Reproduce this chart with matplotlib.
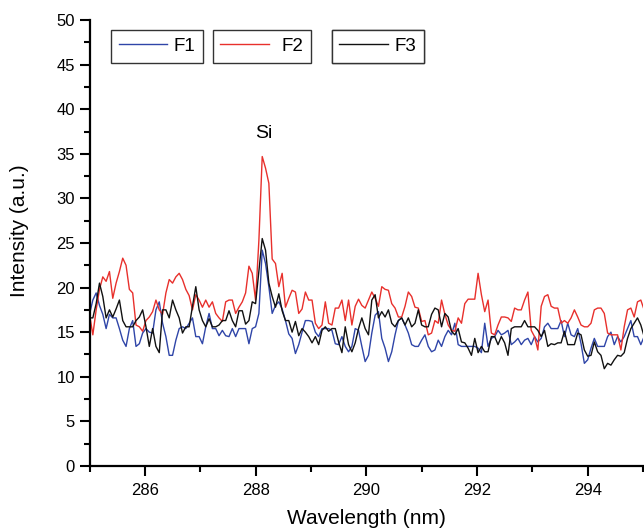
import numpy as np
import matplotlib
matplotlib.use("Agg")
import matplotlib.pyplot as plt
from matplotlib.ticker import MultipleLocator
from matplotlib.lines import Line2D

plt.rcParams['font.family'] = ['Liberation Sans', 'DejaVu Sans']

# wavelength grid of the spectra (nm)
wl_start = 285.0
wl_step = 0.06

f1 = [17.0, 18.6, 19.4, 18.0, 17.0, 15.4, 17.0, 16.6, 16.6, 15.4, 14.1, 13.4, 15.4, 16.3, 13.4, 13.7, 14.9,
      15.4, 15.0, 14.9, 17.5, 18.4, 16.0, 14.5, 12.4, 12.4, 14.1, 15.4, 15.6, 15.4, 16.0, 16.6, 14.5, 14.5,
      13.7, 15.6, 17.1, 15.4, 15.4, 14.6, 15.2, 14.6, 14.5, 15.4, 14.5, 15.4, 15.4, 15.4, 13.7, 15.4, 15.6,
      17.1, 24.2, 22.7, 20.1, 17.1, 18.0, 18.4, 17.6, 16.3, 14.8, 14.3, 12.6, 13.6, 15.0, 16.3, 16.3,
      16.2, 15.0, 14.5, 15.4, 15.4, 15.4, 15.2, 13.7, 13.6, 14.5, 13.4, 12.8, 13.4, 15.4, 15.2, 13.4, 11.7,
      12.4, 14.9, 16.9, 17.3, 14.3, 13.2, 11.7, 12.8, 14.7, 16.3, 16.6, 15.8, 14.9, 13.6, 13.4, 13.4, 14.1,
      14.7, 13.4, 12.8, 13.0, 14.1, 13.4, 14.5, 15.2, 14.7, 16.0, 13.6, 13.4, 13.4, 13.4, 13.4, 13.4, 13.2,
      12.7, 16.0, 13.4, 14.3, 14.5, 15.2, 14.7, 14.9, 15.2, 13.6, 13.9, 14.3, 13.6, 14.1, 14.3, 13.6, 14.5,
      13.9, 14.3, 15.6, 16.0, 15.4, 15.4, 15.4, 16.3, 14.5, 16.0, 14.7, 14.5, 15.4, 13.7, 11.5, 11.9, 13.2,
      14.3, 13.4, 13.4, 13.4, 14.5, 15.0, 13.6, 14.5, 13.9, 14.5, 15.4, 16.3, 14.5, 14.5, 13.6, 14.5]

f2 = [17.0, 14.7, 17.5, 19.8, 21.2, 20.7, 21.8, 18.8, 20.5, 21.8, 23.3, 22.5, 19.8, 19.4, 15.8, 15.6, 15.1,
      16.3, 16.7, 17.3, 18.6, 17.5, 17.0, 19.4, 20.9, 20.5, 21.2, 21.6, 20.9, 19.8, 19.1, 17.5, 19.2, 18.6,
      17.8, 18.6, 17.8, 18.4, 17.1, 16.6, 16.2, 18.4, 18.6, 18.6, 17.1, 17.8, 18.4, 19.4, 22.4, 21.6, 18.6,
      25.3, 34.7, 33.4, 31.7, 23.2, 22.7, 20.1, 21.6, 17.8, 18.8, 19.7, 19.5, 17.1, 17.6, 19.5, 18.6,
      18.6, 16.0, 15.4, 15.8, 18.4, 16.0, 15.8, 17.7, 17.7, 18.6, 16.3, 18.6, 15.8, 17.9, 18.7, 18.0, 17.7,
      18.6, 19.5, 18.8, 17.9, 20.1, 19.8, 19.7, 18.2, 17.7, 16.7, 16.7, 17.9, 19.5, 19.0, 17.8, 17.7, 16.2,
      16.3, 14.7, 14.9, 16.3, 16.0, 18.6, 17.0, 15.8, 15.2, 15.1, 16.6, 16.0, 18.2, 18.7, 18.7, 18.7, 21.6,
      19.2, 17.3, 18.6, 14.9, 14.7, 15.8, 16.7, 16.7, 16.6, 16.2, 17.7, 17.5, 17.5, 18.6, 19.5, 15.2, 14.5,
      13.0, 17.9, 19.0, 19.2, 17.9, 17.7, 17.7, 16.0, 16.3, 16.0, 16.6, 17.5, 16.7, 15.8, 15.6, 15.6, 16.0,
      17.5, 17.7, 17.7, 17.1, 14.9, 14.7, 14.7, 14.7, 13.0, 15.6, 17.5, 17.7, 16.7, 18.4, 18.6, 17.5]

f3 = [16.6, 16.6, 18.2, 20.5, 19.0, 16.6, 17.5, 16.7, 17.6, 18.6, 16.3, 15.6, 15.6, 15.6, 16.3, 16.7, 17.5,
      15.6, 13.4, 15.4, 13.4, 12.7, 17.5, 17.5, 16.6, 18.6, 17.5, 16.6, 14.9, 15.6, 15.6, 17.9, 20.1, 17.5,
      16.3, 15.6, 16.5, 15.6, 15.6, 15.8, 16.3, 16.3, 17.4, 16.3, 15.6, 17.4, 17.4, 15.9, 16.3, 18.4, 18.2,
      21.9, 25.5, 24.2, 20.5, 19.0, 17.8, 19.3, 17.4, 16.3, 16.3, 15.0, 16.2, 14.6, 15.4, 15.0, 14.5,
      13.8, 14.5, 13.6, 15.2, 15.6, 15.1, 15.4, 15.4, 13.9, 12.7, 15.6, 13.6, 12.8, 13.8, 15.4, 16.6, 15.4,
      14.7, 18.6, 19.2, 16.6, 17.3, 16.7, 17.5, 16.0, 15.6, 16.3, 16.6, 15.8, 16.6, 15.6, 16.0, 17.5, 15.8,
      15.6, 15.6, 17.0, 17.7, 17.5, 15.6, 17.1, 16.7, 15.1, 14.7, 15.4, 13.9, 13.8, 13.2, 12.4, 14.3, 12.7,
      13.4, 12.8, 12.8, 14.5, 14.5, 13.6, 14.5, 13.8, 12.4, 15.4, 15.6, 15.6, 15.6, 16.3, 15.6, 15.6, 15.6,
      15.2, 14.5, 15.2, 13.4, 13.7, 13.6, 13.8, 13.8, 15.1, 13.6, 13.6, 13.6, 14.9, 14.7, 13.0, 12.3, 12.4,
      13.9, 12.8, 12.4, 10.9, 11.5, 11.3, 11.9, 12.4, 12.3, 12.7, 14.3, 15.4, 16.0, 16.6, 15.8, 14.5]

names = ["F1", "F2", "F3"]
colors = ["#2f45a8", "#e8302c", "#111111"]

fig = plt.figure(figsize=(6.44, 5.30), dpi=100)
ax = fig.add_axes([0.139, 0.121, 0.8595, 0.841])

lines = []
for name, vals, col in zip(names, [f1, f2, f3], colors):
    x = wl_start + wl_step * np.arange(len(vals))
    ln, = ax.plot(x, vals, color=col, lw=1.0, label=name)
    lines.append(ln)

ax.set_xlim(285, 295)
ax.set_ylim(0, 50)
ax.xaxis.set_minor_locator(MultipleLocator(1))
ax.yaxis.set_major_locator(MultipleLocator(5))
ax.yaxis.set_minor_locator(MultipleLocator(2.5))
ax.set_xticks([286, 288, 290, 292, 294])

for s in ['top', 'right']:
    ax.spines[s].set_visible(False)
for s in ['left', 'bottom']:
    ax.spines[s].set_linewidth(1.6)
ax.tick_params(which='major', length=7, width=1.5, labelsize=12, direction='out')
ax.tick_params(which='minor', length=4, width=1.5, direction='out')
ax.tick_params(axis='x', pad=5)

ax.set_xlabel("Wavelength (nm)", fontsize=15, labelpad=8)
ax.set_ylabel("Intensity (a.u.)", fontsize=15)
ax.yaxis.set_label_coords(-0.11, 0.527)

ax.text(288.15, 36.3, "Si", fontsize=14, ha='center', va='bottom')

# one framed legend box per series
for ln, xpos, gap in zip(lines, [0.039, 0.223, 0.438], [0.35, 0.65, 0.35]):
    h = Line2D([], [], color=ln.get_color(), lw=1.0)
    leg = ax.legend([h], [ln.get_label()], loc='upper left', bbox_to_anchor=(xpos, 0.977),
                    borderaxespad=0, fontsize=13.5, handlelength=2.6, handletextpad=gap,
                    fancybox=False, framealpha=1, edgecolor='#333333', borderpad=0.4)
    leg.get_frame().set_linewidth(1.0)
    ax.add_artist(leg)

fig.savefig("out.png", dpi=100)
